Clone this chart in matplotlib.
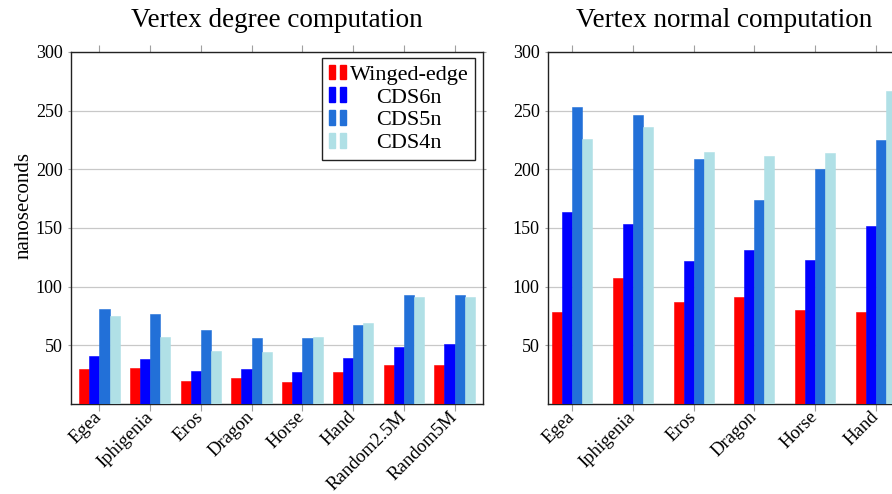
import matplotlib
matplotlib.use("Agg")
import matplotlib.pyplot as plt
import numpy as np
from matplotlib.patches import Patch
from matplotlib.legend_handler import HandlerTuple

plt.rcParams['font.family'] = ['Liberation Serif', 'DejaVu Serif']

series = ["Winged-edge", "CDS6n", "CDS5n", "CDS4n"]
colors = ["#ff0000", "#0000ff", "#2270d8", "#b0e0e6"]

cats_deg = ["Egea", "Iphigenia", "Eros", "Dragon", "Horse", "Hand", "Random2.5M", "Random5M"]
deg_winged = [30, 31, 20, 22, 19, 27, 33, 33]
deg_cds6n = [41, 38, 28, 30, 27, 39, 49, 51]
deg_cds5n = [81, 77, 63, 56, 56, 67, 93, 93]
deg_cds4n = [75, 57, 45, 44, 57, 69, 91, 91]

cats_norm = ["Egea", "Iphigenia", "Eros", "Dragon", "Horse", "Hand"]
norm_winged = [78, 107, 87, 91, 80, 78]
norm_cds6n = [164, 153, 122, 131, 123, 152]
norm_cds5n = [253, 246, 209, 174, 200, 225]
norm_cds4n = [226, 236, 215, 211, 214, 267]

yticks = [50, 100, 150, 200, 250, 300]

W, H = 892, 494
fig = plt.figure(figsize=(W / 100, H / 100), dpi=100)

def px_axes(left, right, top, bottom):
    return fig.add_axes([left / W, 1 - bottom / H, (right - left) / W, (bottom - top) / H])

ax1 = px_axes(71, 483, 52, 404)
ax2 = px_axes(548, 900, 52, 404)

def draw(ax, cats, data, width, xlim, title):
    x = np.arange(len(cats))
    offs = [-1.5, -0.5, 0.5, 1.5]
    for vals, c, o, name in zip(data, colors, offs, series):
        ax.bar(x + o * width, vals, width, color=c, edgecolor=c, linewidth=0.4,
               label=name, zorder=3)
    ax.set_xlim(*xlim)
    ax.set_ylim(0, 300)
    ax.set_yticks(yticks)
    ax.set_yticklabels([str(v) for v in yticks], fontsize=13)
    ax.set_xticks(x)
    ax.set_xticklabels(cats, rotation=45, ha='right', va='center',
                       rotation_mode='anchor', fontsize=13.5)
    ax.grid(axis='y', color='#c8c8c8', linewidth=0.9, zorder=0)
    ax.tick_params(axis='x', which='both', direction='out', length=5, color='#a0a0a0',
                   top=True, bottom=True, labeltop=False, pad=2.5)
    ax.tick_params(axis='y', which='both', direction='out', length=2, color='#a0a0a0',
                   left=True, right=True, pad=4)
    for s in ax.spines.values():
        s.set_color('#222222')
        s.set_linewidth(1.0)
    ax.set_title(title, fontsize=19.5, pad=18)

draw(ax1, cats_deg, [deg_winged, deg_cds6n, deg_cds5n, deg_cds4n], 0.2, (-0.56, 7.56),
     "Vertex degree computation")
draw(ax2, cats_norm, [norm_winged, norm_cds6n, norm_cds5n, norm_cds4n], 0.164, (-0.39, 5.39),
     "Vertex normal computation")

ax1.set_ylabel("nanoseconds", fontsize=15)
ax1.yaxis.set_label_coords(-0.09, 0.564)

handles = [(Patch(color=c), Patch(color=c)) for c in colors]
leg = ax1.legend(handles, series, handler_map={tuple: HandlerTuple(ndivide=None, pad=0.23)},
                 loc='upper right', bbox_to_anchor=(0.9806, 0.983), fontsize=16,
                 frameon=True, fancybox=False, edgecolor='#222222', framealpha=1,
                 handlelength=0.78, handleheight=0.64, handletextpad=0.15,
                 labelspacing=0.12, borderpad=0.3, borderaxespad=0)
leg.get_frame().set_linewidth(1.0)

fig.canvas.draw()
renderer = fig.canvas.get_renderer()
texts = leg.get_texts()
widths = [t.get_window_extent(renderer).width for t in texts]
mw = max(widths)
for t, w in zip(texts, widths):
    t.set_position(((mw - w) / 2, 0))

fig.savefig("out.png", dpi=100)
